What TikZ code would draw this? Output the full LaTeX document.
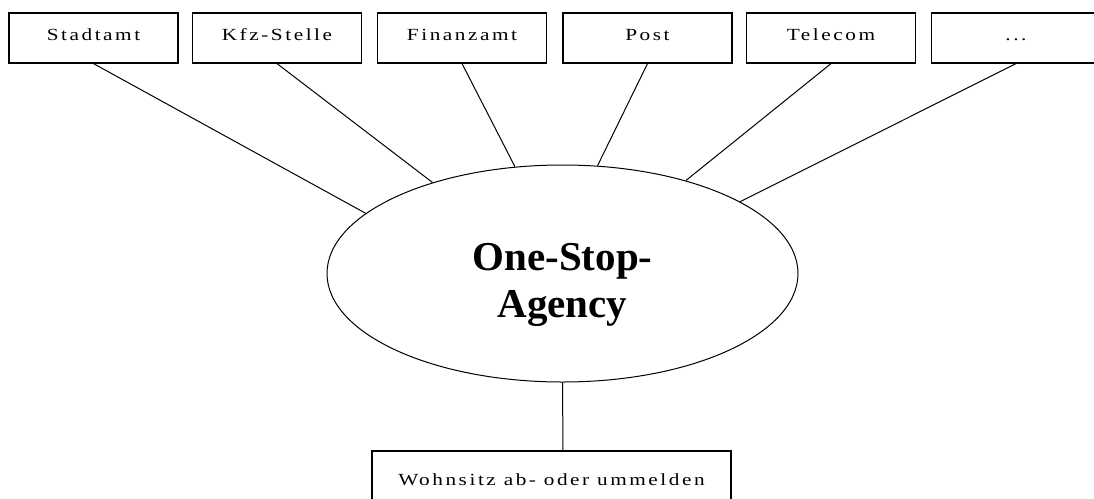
\documentclass[tikz,border=0pt]{standalone}
\usepackage{fontspec}
\setmainfont{Liberation Serif}
\newfontfamily\widefont[FakeStretch=1.25,LetterSpace=15]{Liberation Serif}
\usetikzlibrary{shapes.geometric}
\tikzset{
  officebox/.style={draw, line width=1.2pt, minimum width=169pt, minimum height=50pt, inner sep=0pt,
    font=\widefont\fontsize{17}{20}\selectfont, text height=11pt, text depth=7pt},
  taskbox/.style={draw, line width=1.2pt, minimum width=359pt, minimum height=60pt, inner sep=0pt,
    font=\widefont\fontsize{17}{20}\selectfont, text height=11pt, text depth=3pt},
  hub/.style={draw, ellipse, line width=1pt, minimum width=471pt, minimum height=217pt, inner sep=0pt},
  hubtext/.style={anchor=base, inner sep=0pt, font=\bfseries\fontsize{41}{47}\selectfont},
  link/.style={line width=1pt}
}
\begin{document}
\begin{tikzpicture}[x=1pt,y=-1pt]
\useasboundingbox (0,0) rectangle (1094,498);
\clip (0,0) rectangle (1094,498);
\fill[white] (0,0) rectangle (1094,498);
\node[officebox] (b1) at (93.5,38) {Stadtamt};
\node[officebox] (b2) at (277,38) {Kfz-Stelle};
\node[officebox] (b3) at (462,38) {Finanzamt};
\node[officebox] (b4) at (647.5,38) {Post};
\node[officebox] (b5) at (831,38) {Telecom};
\node[officebox] (b6) at (1016,38) {...};
\node[hub] (ell) at (562.5,273.5) {};
\node[hubtext] (t1) at (562.5,270) {One-Stop-};
\node[hubtext] (t2) at (562.5,317) {Agency};
\node[taskbox] (task) at (551.5,481) {Wohnsitz ab- oder ummelden};
\coordinate (taskTop) at (563,451);
\draw[link] (b1.south) -- (ell.163.1);
\draw[link] (b2.south) -- (ell.145.2);
\draw[link] (b3.south) -- (ell.114.7);
\draw[link] (b4.south) -- (ell.72.7);
\draw[link] (b5.south) -- (ell.37.6);
\draw[link] (b6.south) -- (ell.22.7);
\draw[link] (ell.south) -- (taskTop);
\end{tikzpicture}
\end{document}
